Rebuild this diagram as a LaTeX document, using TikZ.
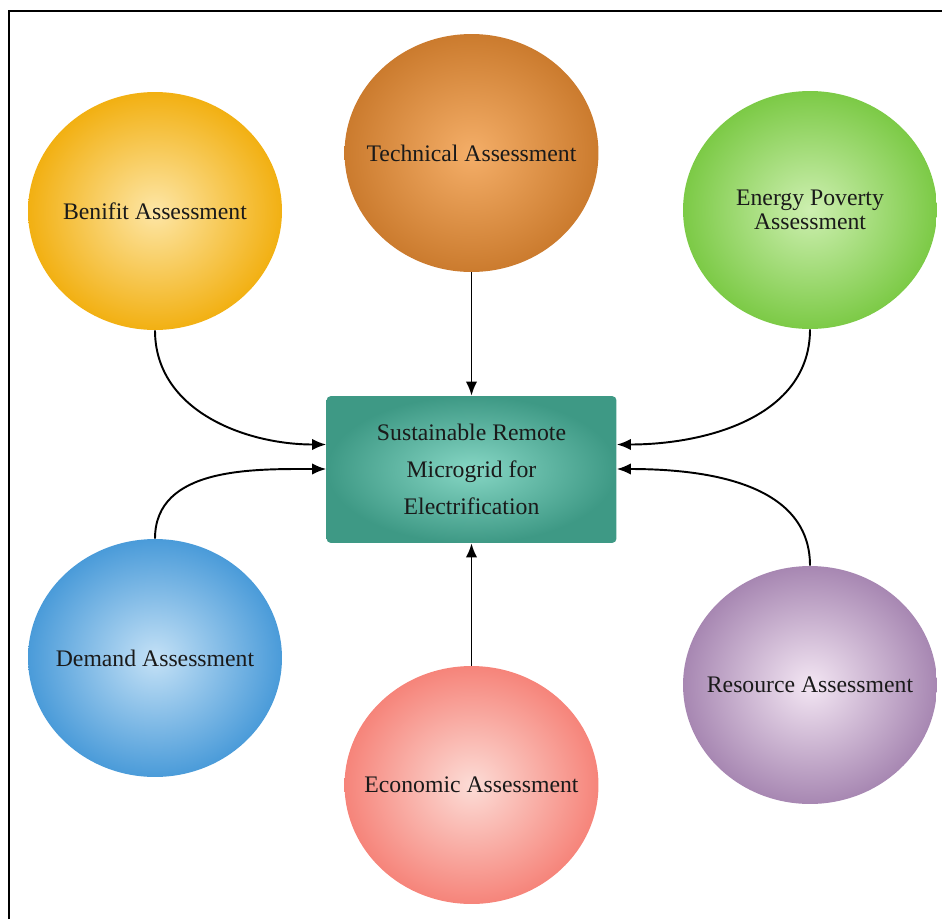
\documentclass[tikz,border=0pt]{standalone}
\usepackage{fontspec}
\setmainfont{Liberation Serif}
\usetikzlibrary{shapes.geometric,arrows.meta}

\definecolor{benOut}{HTML}{F2B012}
\definecolor{benIn}{HTML}{FDE6A6}
\definecolor{tecOut}{HTML}{CB7B2E}
\definecolor{tecIn}{HTML}{F4AE68}
\definecolor{povOut}{HTML}{7CCA46}
\definecolor{povIn}{HTML}{CDEFB0}
\definecolor{demOut}{HTML}{4A9BD9}
\definecolor{demIn}{HTML}{C4E1F6}
\definecolor{ecoOut}{HTML}{F6847A}
\definecolor{ecoIn}{HTML}{FCDCD6}
\definecolor{resOut}{HTML}{A787B2}
\definecolor{resIn}{HTML}{F3E6F3}
\definecolor{coreOut}{HTML}{3E9985}
\definecolor{coreIn}{HTML}{86D6C4}
\definecolor{ink}{HTML}{1A1A1A}

\tikzset{
  bubble/.style={ellipse, inner xsep=-0.6cm, inner ysep=0pt, minimum width=5.08cm,
    minimum height=4.76cm, font=\fontsize{13.5}{14}\selectfont, text=ink, align=center},
  corebox/.style={rectangle, rounded corners=2.5pt, inner sep=0pt, minimum width=5.8cm,
    minimum height=2.94cm, font=\fontsize{13.5}{21}\selectfont, text=ink, align=center,
    inner color=coreIn, outer color=coreOut},
  flow/.style={-{Latex[length=8pt,width=6.5pt]}, line width=1.1pt, black}
}

\begin{document}
\begin{tikzpicture}[x=0.02cm, y=-0.02cm]
\useasboundingbox (0,0) rectangle (942,919);
\draw[line width=1.1pt] (9,919) -- (9,11) -- (942,11);

% assessments
\node[bubble, inner color=benIn, outer color=benOut] (ben) at (155, 211) {Benifit Assessment};
\node[bubble, inner color=tecIn, outer color=tecOut] (tec) at (471.5, 153) {Technical Assessment};
\node[bubble, inner color=povIn, outer color=povOut] (pov) at (810, 210) {Energy Poverty\\Assessment};
\node[bubble, inner color=demIn, outer color=demOut] (dem) at (155, 658) {Demand Assessment};
\node[bubble, inner color=ecoIn, outer color=ecoOut] (eco) at (471.5, 785) {Economic Assessment};
\node[bubble, inner color=resIn, outer color=resOut] (res) at (810, 685) {Resource Assessment};

% microgrid
\node[corebox] (core) at (471.5, 469.5) {Sustainable Remote\\Microgrid for\\Electrification};

\draw (ben) edge[flow, out=-90, in=180] ([yshift=0.5cm]core.west);
\draw (tec) edge[flow] (core);
\draw (pov) edge[flow, out=-90, in=0] ([yshift=0.5cm]core.east);
\draw (dem) edge[flow, out=90, in=180] ([yshift=0.01cm]core.west);
\draw (eco) edge[flow] (core);
\draw (res) edge[flow, out=90, in=0] ([yshift=0.01cm]core.east);
\end{tikzpicture}
\end{document}
